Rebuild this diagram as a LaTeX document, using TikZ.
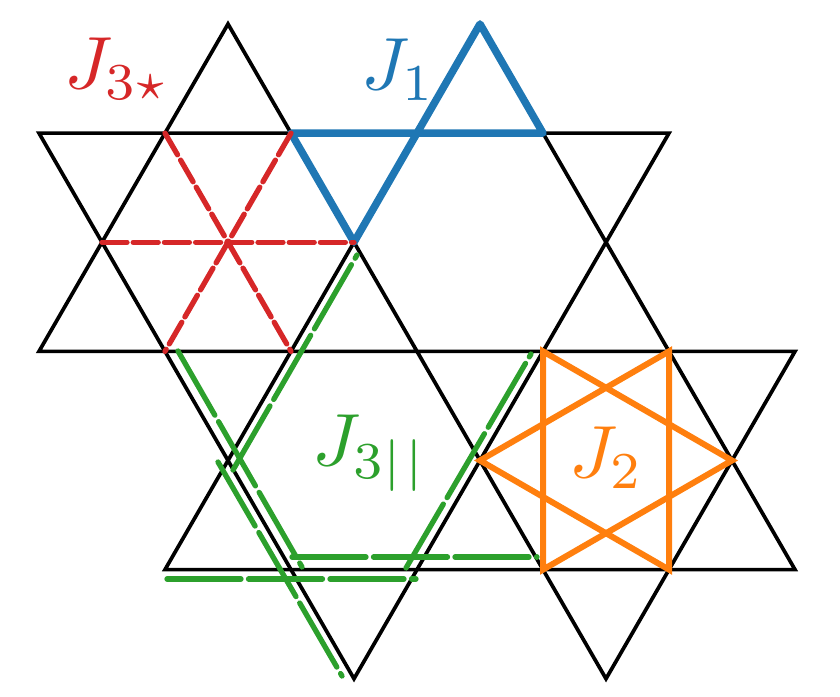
\documentclass[tikz,border=0pt]{standalone}
\definecolor{tblue}{RGB}{31,119,180}
\definecolor{tred}{RGB}{214,39,40}
\definecolor{tgreen}{RGB}{44,160,44}
\definecolor{torange}{RGB}{255,127,14}
\begin{document}
\begin{tikzpicture}[x=1pt,y=-1pt,
  lat/.style={line width=3.7pt,black,line join=miter},
  jone/.style={line width=7.5pt,tblue,line join=round,line cap=round},
  jstar/.style={line width=5.3pt,tred,line cap=round,dash pattern=on 25pt off 6.2pt},
  jpar/.style={line width=5.3pt,tgreen,line cap=round,dash pattern=on 74pt off 7.5pt},
  jtwo/.style={line width=6pt,torange,line join=miter},
  lab/.style={inner sep=0pt,anchor=base west,scale=7.4}]
\useasboundingbox (0,0) rectangle (840,696);
% kagome vertices
\foreach \i in {0,...,12}{
  \foreach \j in {0,...,6}{
    \coordinate (v\i-\j) at ({39+63*\i},{24+109.12*\j});
  }
}
% lattice
\draw[lat] (v0-1) -- (v10-1) -- (v5-6) -- cycle;
\draw[lat] (v12-3) -- (v0-3) -- (v3-0) -- (v9-6) -- cycle;
\draw[lat] (v2-5) -- (v7-0) -- (v12-5) -- cycle;
% J1
\draw[jone] (v4-1) -- (v8-1) -- (v7-0) -- (v6-1) -- (v5-2) -- cycle;
% J3 star
\draw[jstar] (v1-2) -- (v5-2);
\draw[jstar] (v2-1) -- (v4-3);
\draw[jstar] (v4-1) -- (v2-3);
% J2
\draw[jtwo] (v8-3) -- (v8-5) -- (v11-4) -- cycle;
\draw[jtwo] (v10-3) -- (v10-5) -- (v7-4) -- cycle;
% J3 parallel
\coordinate (a1) at (233,470); \coordinate (a2) at (357,255);
\coordinate (b1) at (178,351); \coordinate (b2) at (302,567);
\coordinate (c1) at (218,462); \coordinate (c2) at (342,676);
\coordinate (d1) at (292,557); \coordinate (d2) at (537,557);
\coordinate (e1) at (167,579); \coordinate (e2) at (416,579);
\coordinate (f1) at (406,568); \coordinate (f2) at (531,354);
\draw[jpar] (a1) -- (a2);
\draw[jpar] (b1) -- (b2);
\draw[jpar] (c1) -- (c2);
\draw[jpar] (d1) -- (d2);
\draw[jpar] (e1) -- (e2);
\draw[jpar] (f1) -- (f2);
% labels
\node[lab,text=tred] (l3s) at (63,88) {$J_{3\star}$};
\node[lab,text=tblue] (l1) at (360,89) {$J_1$};
\node[lab,text=tgreen] (l3p) at (311,465) {$J_{3|\mkern1.5mu|}$};
\node[lab,text=torange] (l2) at (568,477) {$J_2$};
\end{tikzpicture}
\end{document}
